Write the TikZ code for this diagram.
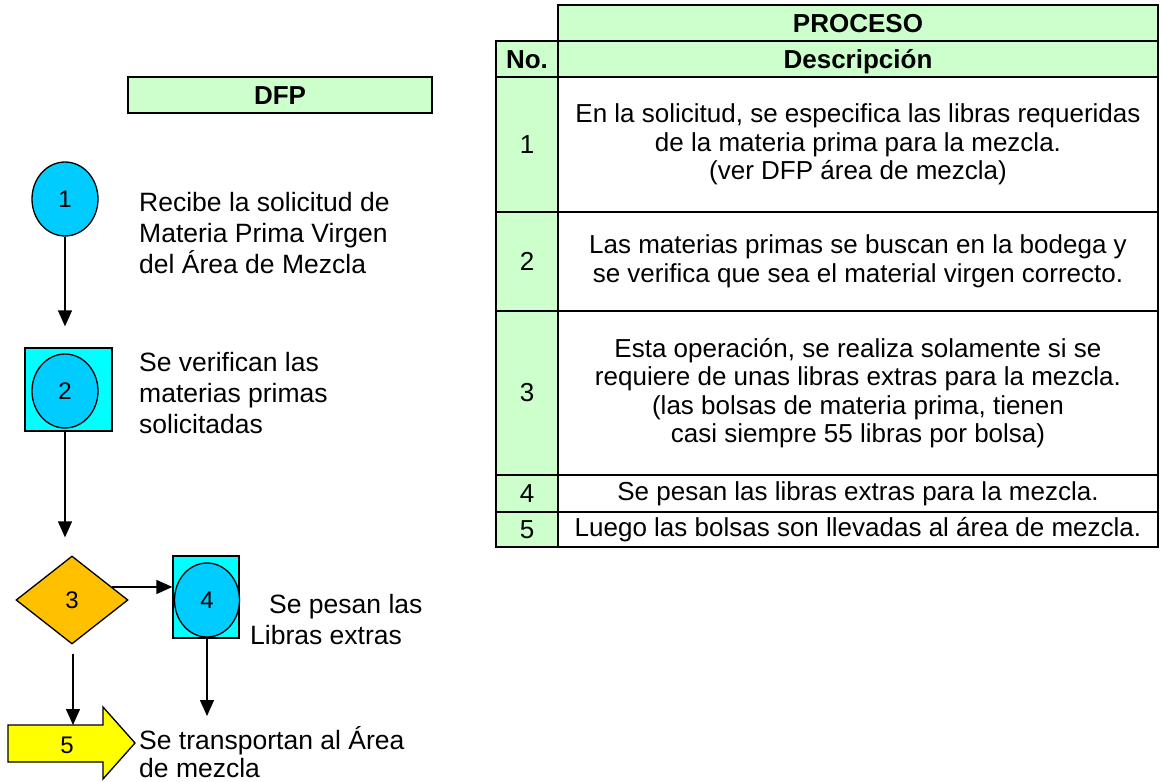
\documentclass[tikz,border=0pt]{standalone}
\usepackage{fontspec}
\setmainfont{Liberation Sans}
\usetikzlibrary{arrows.meta,shapes.geometric,calc}
\definecolor{lgreen}{HTML}{CCFFCC}
\definecolor{sqcyan}{HTML}{00FFFF}
\definecolor{circblue}{HTML}{00CCFF}
\definecolor{dgold}{HTML}{FFC000}
\definecolor{ayellow}{HTML}{FFFF00}
\newcommand\tfnt{\fontsize{26}{28.5}\selectfont}
\newcommand\lfnt{\fontsize{26.5}{31}\selectfont}
\newcommand\lfntb{\fontsize{26.5}{28}\selectfont}
\newcommand\hfnt{\fontsize{26}{30}\selectfont\bfseries}
\newcommand\nfnt{\fontsize{24}{28}\selectfont}
\begin{document}
\begin{tikzpicture}[x=1pt,y=-1pt,
  cell/.style={draw, line width=1.8pt, inner sep=0pt, align=center, font=\tfnt},
  hcell/.style={draw, line width=1.8pt, inner sep=0pt, fill=lgreen, font=\hfnt, text height=18pt, text depth=0pt},
  ncell/.style={cell, fill=lgreen},
  dcell/.style={cell, fill=white, minimum width=600pt},
  sqbox/.style={draw, line width=1.3pt, fill=sqcyan, inner sep=0pt},
  circ/.style={ellipse, draw, line width=1.3pt, fill=circblue, inner sep=0pt, minimum width=66pt, minimum height=74pt, font=\nfnt},
  lbl/.style={anchor=west, align=left, inner sep=0pt, font=\lfnt},
  arr/.style={line width=1.3pt, -{Triangle[width=14pt,length=16pt]}}
]
\useasboundingbox (0,0) rectangle (1163,782);

% ---------- table ----------
\node[hcell, minimum width=600pt, minimum height=36pt] (proc) at (858,23) {PROCESO};
\node[hcell, minimum width=62pt, minimum height=36pt] (hno) at (527,59) {No.};
\node[hcell, minimum width=600pt, minimum height=36pt] (hdesc) at (858,59) {Descripción};

\node[ncell, minimum width=62pt, minimum height=135pt] (no1) at (527,144.5) {1};
\node[dcell, minimum height=135pt] (de1) at (858,144.5) {En la solicitud, se especifica las libras requeridas\\de la materia prima para la mezcla.\\(ver DFP área de mezcla)};

\node[ncell, minimum width=62pt, minimum height=99pt] (no2) at (527,261.5) {2};
\node[dcell, minimum height=99pt] (de2) at (858,261.5) {Las materias primas se buscan en la bodega y\\se verifica que sea el material virgen correcto.};

\node[ncell, minimum width=62pt, minimum height=164pt] (no3) at (527,393) {3};
\node[dcell, minimum height=164pt] (de3) at (858,393) {Esta operación, se realiza solamente si se\\requiere de unas libras extras para la mezcla.\\(las bolsas de materia prima, tienen\\casi siempre 55 libras por bolsa)};

\node[ncell, minimum width=62pt, minimum height=37pt] (no4) at (527,493.5) {4};
\node[dcell, minimum height=37pt] (de4) at (858,493.5) {Se pesan las libras extras para la mezcla.};

\node[ncell, minimum width=62pt, minimum height=35pt] (no5) at (527,529.5) {5};
\node[dcell, minimum height=35pt] (de5) at (858,529.5) {Luego las bolsas son llevadas al área de mezcla.};

% ---------- DFP ----------
\node[hcell, minimum width=304pt, minimum height=36pt] (dfp) at (280,95) {DFP};

% step 1
\node[circ] (c1) at (65,199) {1};
\node[lbl] (t1) at (139,233) {Recibe la solicitud de\\Materia Prima Virgen\\del Área de Mezcla};

% step 2
\node[sqbox, minimum width=87pt, minimum height=83pt] (s2) at (68.5,389.5) {};
\node[circ] (c2) at (65,391) {2};
\node[lbl] (t2) at (139,393) {Se verifican las\\materias primas\\solicitadas};

% step 3
\node[diamond, draw, line width=1.3pt, fill=dgold, inner sep=0pt, minimum width=112pt, minimum height=88pt, font=\nfnt] (d3) at (72,600) {3};

% step 4
\node[sqbox, minimum width=66pt, minimum height=82pt] (s4) at (206,597) {};
\node[circ, minimum width=65pt] (c4) at (207,600) {4};
\node[lbl] (t4) at (250,620) {\hspace*{19pt}Se pesan las\\Libras extras};

% step 5 (block arrow)
\draw[line width=1.3pt, fill=ayellow] (8,725) -- (103,725) -- (103,707) -- (135,743) -- (103,779) -- (103,762) -- (8,762) -- cycle;
\node[font=\nfnt, inner sep=0pt] (n5) at (67,745) {5};
\coordinate (a5top) at (73,725);
\coordinate (a4end) at (207,716);
\node[lbl, font=\lfntb] (t5) at (139,752) {Se transportan al Área\\de mezcla};

% connectors
\draw[arr, shorten >=21pt] (c1.south) -- (c1.south |- s2.north);
\draw[arr, shorten >=18pt] (c2.south |- s2.south) -- (c2.south |- d3.north);
\draw[arr] (d3.18) -- (d3.18 -| s4.west);
\draw[arr] (c4.south) -- (a4end);
\draw[arr, shorten <=9pt] (d3.south -| a5top) -- (a5top);
\end{tikzpicture}
\end{document}
